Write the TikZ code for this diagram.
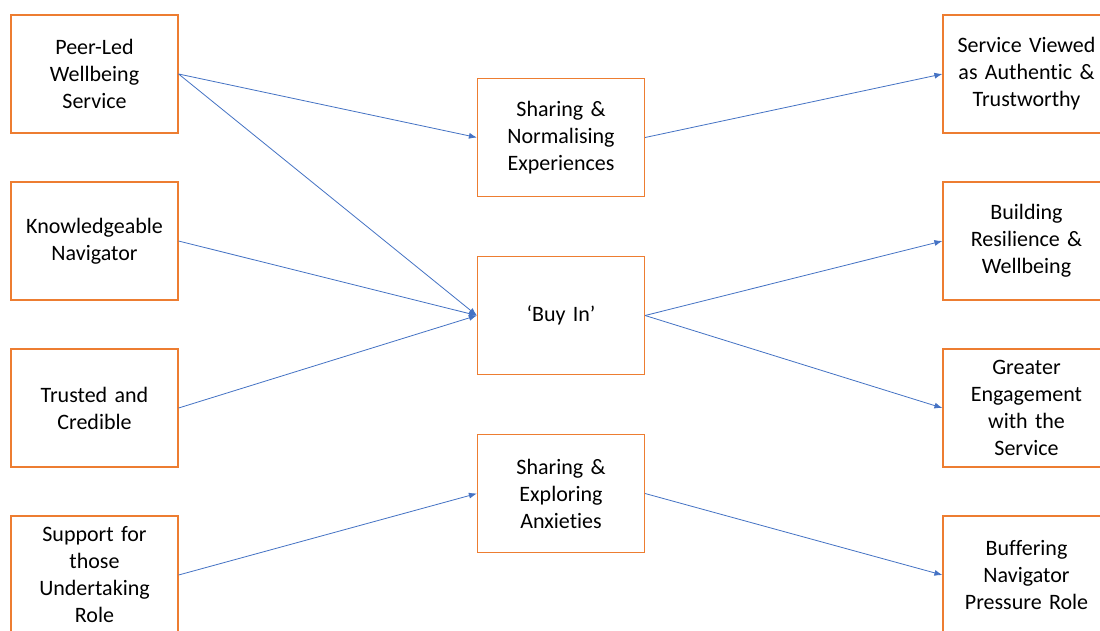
\documentclass[tikz,border=0pt]{standalone}
\usepackage{fontspec}
\setmainfont{Carlito}[Ligatures=NoCommon,WordSpace=0.6]
\usetikzlibrary{arrows.meta}
\definecolor{boxorange}{RGB}{237,125,49}
\definecolor{arrowblue}{RGB}{68,114,196}
\begin{document}
\begin{tikzpicture}[x=1pt,y=-1pt,
  box/.style={draw=boxorange,line width=1.2pt,minimum width=167pt,minimum height=118pt,
    text width=164pt,align=center,inner sep=0pt,
    font=\fontsize{22}{27}\selectfont},
  conn/.style={draw=arrowblue,line width=0.8pt,-{Latex[length=8pt,width=6pt]}}]
\path[use as bounding box] (0,0) rectangle (1100,630);
\clip (0,0) rectangle (1100,630);
\fill[white] (0,0) rectangle (1100,630);
% left column
\node[box] (l1) at (94.5,74) {Peer-Led\\Wellbeing\\Service};
\node[box] (l2) at (94.5,241) {Knowledgeable\\Navigator};
\node[box] (l3) at (94.5,408) {Trusted and\\Credible};
\node[box] (l4) at (94.5,575) {Support for\\those\\Undertaking\\Role};
% middle column
\node[box] (m1) at (561,137.5) {Sharing \&\\Normalising\\Experiences};
\node[box] (m2) at (561,315.5) {‘Buy In’};
\node[box] (m3) at (561,493.5) {Sharing \&\\Exploring\\Anxieties};
% right column
\node[box] (r1) at (1026.5,74) {Service Viewed\\as Authentic \&\\Trustworthy};
\node[box] (r2) at (1026.5,241) {Building\\Resilience \&\\Wellbeing};
\node[box] (r3) at (1026.5,408) {Greater\\Engagement\\with the\\Service};
\node[box] (r4) at (1026.5,575) {Buffering\\Navigator\\Pressure Role};
% connectors
\draw[conn] (l1.east) -- (m1.west);
\draw[conn] (l1.east) -- (m2.west);
\draw[conn] (l2.east) -- (m2.west);
\draw[conn] (l3.east) -- (m2.west);
\draw[conn] (l4.east) -- (m3.west);
\draw[conn] (m1.east) -- (r1.west);
\draw[conn] (m2.east) -- (r2.west);
\draw[conn] (m2.east) -- (r3.west);
\draw[conn] (m3.east) -- (r4.west);
\end{tikzpicture}
\end{document}
